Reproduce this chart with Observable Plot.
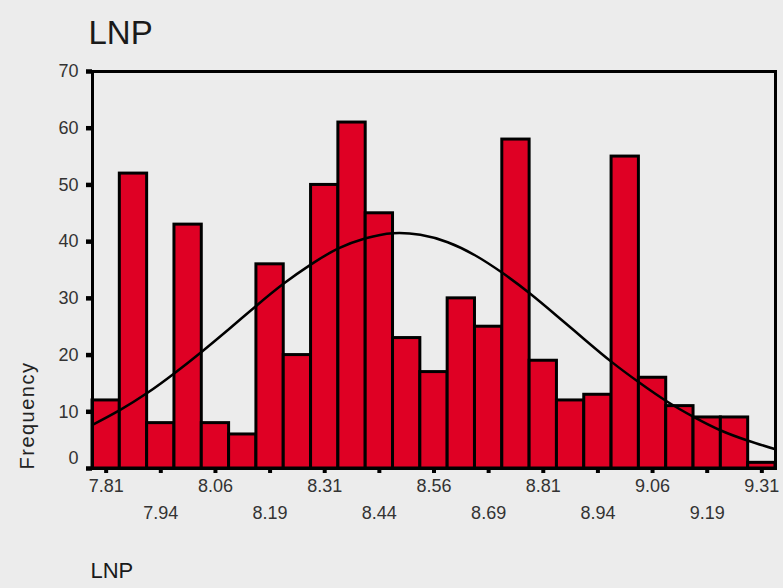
<!DOCTYPE html>
<html>
<head>
<meta charset="utf-8">
<script src="https://cdn.jsdelivr.net/npm/d3@7"></script>
<script src="https://cdn.jsdelivr.net/npm/@observablehq/plot@0.6"></script>
<style>
  html, body { margin: 0; padding: 0; background: #ececec; }
  #chart { width: 783px; height: 588px; }
</style>
</head>
<body>
<div id="chart"></div>
<script>
// Histogram bins (equal width) and counts
const binStart = 7.78125;
const binWidth = 0.0625;
const counts = [12, 52, 8, 43, 8, 6, 36, 20, 50, 61, 45, 23, 17, 30, 25, 58, 19, 12, 13, 55, 16, 11, 9, 9, 1];

// Fitted normal curve, read at the bin edges
const curveY = [7.7, 10.3, 13.3, 16.8, 20.6, 24.6, 28.7, 32.6, 36.0, 38.8, 40.6, 41.5, 41.2,
                39.9, 37.6, 34.5, 30.9, 26.9, 22.8, 18.8, 15.2, 11.9, 9.1, 6.7, 4.9, 3.4];

// Axis ticks
const xTicks = [7.8125, 7.9375, 8.0625, 8.1875, 8.3125, 8.4375, 8.5625, 8.6875, 8.8125, 8.9375, 9.0625, 9.1875, 9.3125];
const xTickLabels = ["7.81", "7.94", "8.06", "8.19", "8.31", "8.44", "8.56", "8.69", "8.81", "8.94", "9.06", "9.19", "9.31"];
const yTicks = [0, 10, 20, 30, 40, 50, 60, 70];

const title = "LNP";
const yTitle = "Frequency";
const xTitle = "LNP";

// Build tables for the library
const bars = counts.map((c, i) => ({x1: binStart + i * binWidth, x2: binStart + (i + 1) * binWidth, count: c}));
const curve = curveY.map((v, i) => ({x: binStart + i * binWidth, y: v}));
const labelOf = new Map(xTicks.map((t, i) => [t, xTickLabels[i]]));
const xTicksRow1 = xTicks.filter((d, i) => i % 2 === 0);
const xTicksRow2 = xTicks.filter((d, i) => i % 2 === 1);

const font = "'Liberation Sans', Arial, Helvetica, sans-serif";

const chart = Plot.plot({
  width: 783,
  height: 588,
  marginLeft: 92,
  marginRight: 8,
  marginTop: 71,
  marginBottom: 120,
  style: {background: "#ececec", color: "black", fontFamily: font, overflow: "visible"},
  x: {domain: [binStart, binStart + counts.length * binWidth]},
  y: {domain: [0, 70]},
  marks: [
    Plot.rectY(bars, {x1: "x1", x2: "x2", y: "count", fill: "#df0024", stroke: "black", strokeWidth: 3}),
    Plot.line(curve, {x: "x", y: "y", curve: "natural", stroke: "black", strokeWidth: 2.5}),
    Plot.frame({stroke: "black", strokeWidth: 3}),
    // Y axis
    Plot.axisY(yTicks, {tickSize: 6, tickPadding: 8, strokeWidth: 4.5, fontSize: 18, fill: "#333",
      tickFormat: d => d === 0 ? "" : String(d), label: null}),
    Plot.axisY([0], {tickSize: 0, tickPadding: 14, dy: -10, fontSize: 18, fill: "#333", label: null}),
    // X axis, two staggered rows
    Plot.axisX(xTicksRow1, {tickSize: 5, tickPadding: 6, strokeWidth: 4, fontSize: 18, fill: "#333",
      tickFormat: d => labelOf.get(d), label: null}),
    Plot.axisX(xTicksRow2, {tickSize: 5, tickPadding: 33, strokeWidth: 4, fontSize: 18, fill: "#333",
      tickFormat: d => labelOf.get(d), label: null}),
    // Titles
    Plot.text([title], {frameAnchor: "top-left", textAnchor: "start", lineAnchor: "bottom",
      dx: -4, dy: -28, fontSize: 33, fill: "#1a1a1a"}),
    Plot.text([xTitle], {frameAnchor: "bottom-left", textAnchor: "start", lineAnchor: "bottom",
      dx: -2, dy: 109, fontSize: 22, fill: "#1a1a1a"}),
    Plot.text([yTitle], {frameAnchor: "bottom-left", textAnchor: "start", lineAnchor: "bottom",
      rotate: -90, dx: -59, dy: 1, fontSize: 20, fill: "#222"})
  ]
});

d3.select(chart).selectAll("text").filter(function() { return this.textContent === yTitle; })
  .style("letter-spacing", "1.5px");

document.getElementById("chart").appendChild(chart);
</script>
</body>
</html>
